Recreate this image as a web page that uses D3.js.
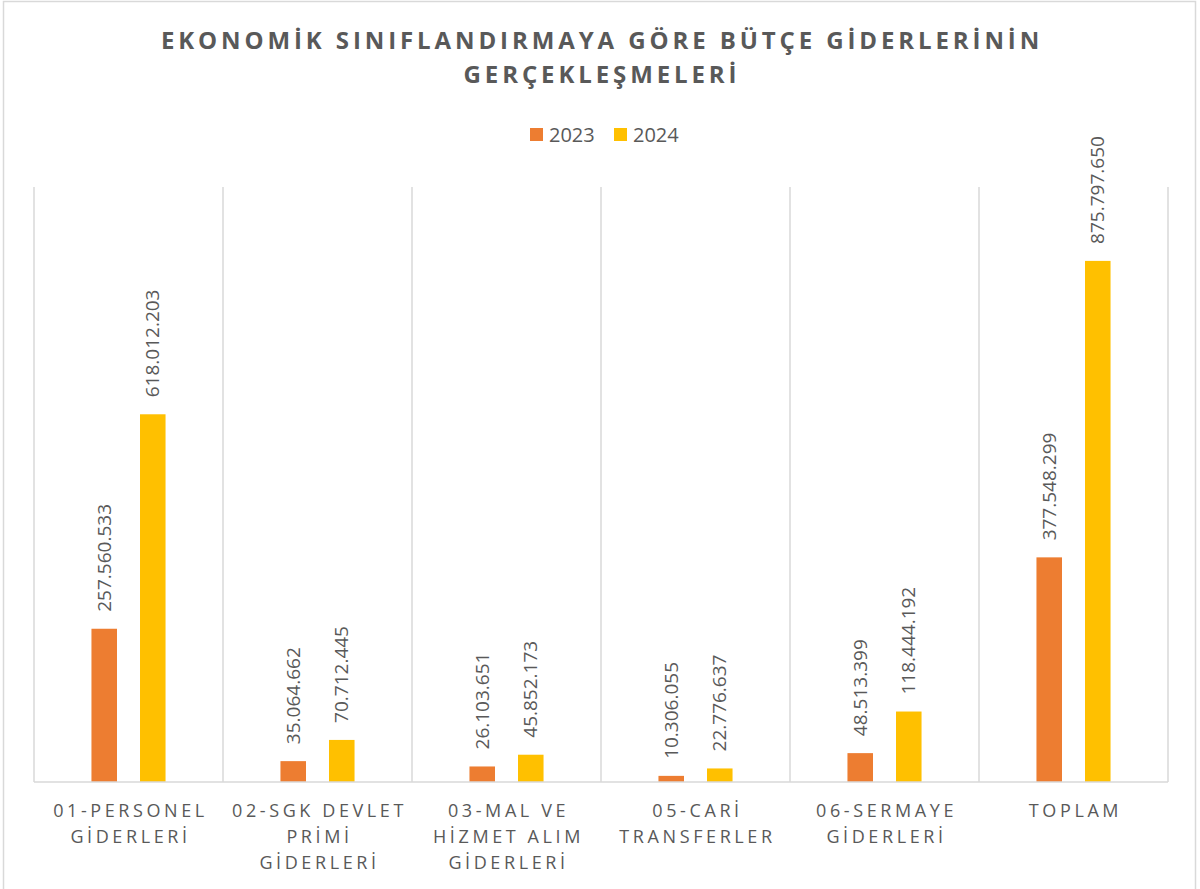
<!DOCTYPE html>
<html>
<head>
<meta charset="utf-8">
<script src="https://cdn.jsdelivr.net/npm/d3@7"></script>
<style>
  body { margin: 0; background: #fff; }
  text { font-family: "Open Sans", "Noto Sans", sans-serif; fill: #595959; }
</style>
</head>
<body>
<svg id="chart" width="1200" height="889"></svg>
<script>

var titleLines = ["EKONOMİK SINIFLANDIRMAYA GÖRE BÜTÇE GİDERLERİNİN", "GERÇEKLEŞMELERİ"];
var categories = ["01-PERSONEL GİDERLERİ", "02-SGK DEVLET PRİMİ GİDERLERİ", "03-MAL VE HİZMET ALIM GİDERLERİ",
                  "05-CARİ TRANSFERLER", "06-SERMAYE GİDERLERİ", "TOPLAM"];
var categoryLines = [["01-PERSONEL", "GİDERLERİ"], ["02-SGK DEVLET", "PRİMİ", "GİDERLERİ"],
                     ["03-MAL VE", "HİZMET ALIM", "GİDERLERİ"], ["05-CARİ", "TRANSFERLER"],
                     ["06-SERMAYE", "GİDERLERİ"], ["TOPLAM"]];
var seriesNames = ["2023", "2024"];
var values2023 = [257560533, 35064662, 26103651, 10306055, 48513399, 377548299];
var values2024 = [618012203, 70712445, 45852173, 22776637, 118444192, 875797650];
var seriesColors = ["#ED7D31", "#FFC000"];
var yMax = 1000000000;

var svg = d3.select("#chart");
var plot = {left: 34, right: 1168, top: 187, bottom: 782};

// outer chart border
svg.append("rect")
    .attr("x", 3.5).attr("y", 1.5)
    .attr("width", 1192).attr("height", 900)
    .attr("fill", "none")
    .attr("stroke", "#D9D9D9")
    .attr("stroke-width", 1.5);

// title
svg.append("g").selectAll("text")
    .data(titleLines)
    .enter().append("text")
    .attr("x", 600 + 2)
    .attr("y", function(d, i) { return 49 + i * 34; })
    .attr("text-anchor", "middle")
    .style("font-size", "24px")
    .style("font-weight", "bold")
    .style("letter-spacing", "3.9px")
    .text(function(d) { return d; });

// legend
var legend = svg.append("g");
var legendX = [530, 614];
seriesNames.forEach(function(s, i) {
    legend.append("rect")
        .attr("x", legendX[i]).attr("y", 128)
        .attr("width", 13).attr("height", 13)
        .attr("fill", seriesColors[i]);
    legend.append("text")
        .attr("x", legendX[i] + 19).attr("y", 142)
        .style("font-size", "20px")
        .text(s);
});

var x0 = d3.scaleBand()
    .domain(categories)
    .range([plot.left, plot.right]);

var bw = x0.bandwidth();
var x1 = d3.scaleBand()
    .domain(seriesNames)
    .range([bw / 2 - bw * 0.196, bw / 2 + bw * 0.196])
    .paddingInner(0.474);

var y = d3.scaleLinear()
    .domain([0, yMax])
    .range([plot.bottom, plot.top]);

// vertical gridlines at category boundaries
var bounds = categories.map(function(c) { return x0(c); }).concat([plot.right]);
svg.append("g").selectAll("line")
    .data(bounds)
    .enter().append("line")
    .attr("x1", function(d) { return d; })
    .attr("x2", function(d) { return d; })
    .attr("y1", plot.top)
    .attr("y2", plot.bottom)
    .attr("stroke", "#D9D9D9")
    .attr("stroke-width", 1.5);

// bars
var rows = categories.map(function(c, i) {
    return {cat: c, vals: [values2023[i], values2024[i]]};
});

var groups = svg.append("g").selectAll("g")
    .data(rows)
    .enter().append("g")
    .attr("transform", function(d) { return "translate(" + x0(d.cat) + ",0)"; });

groups.selectAll("rect")
    .data(function(d) { return d.vals.map(function(v, j) { return {s: seriesNames[j], v: v, j: j}; }); })
    .enter().append("rect")
    .attr("x", function(d) { return x1(d.s); })
    .attr("y", function(d) { return y(d.v); })
    .attr("width", x1.bandwidth())
    .attr("height", function(d) { return y(0) - y(d.v); })
    .attr("fill", function(d) { return seriesColors[d.j]; });

// value labels, rotated
var fmt = function(v) { return d3.format(",")(v).replace(/,/g, "."); };
groups.selectAll("text.val")
    .data(function(d) { return d.vals.map(function(v, j) { return {s: seriesNames[j], v: v}; }); })
    .enter().append("text")
    .attr("class", "val")
    .attr("transform", function(d) {
        return "translate(" + (x1(d.s) + x1.bandwidth() / 2) + "," + (y(d.v) - 17) + ") rotate(-90)";
    })
    .attr("dy", "0.35em")
    .style("font-size", "19px")
    .text(function(d) { return fmt(d.v); });

// baseline
svg.append("line")
    .attr("x1", plot.left).attr("x2", plot.right)
    .attr("y1", plot.bottom).attr("y2", plot.bottom)
    .attr("stroke", "#D9D9D9")
    .attr("stroke-width", 1.5);

// category labels
svg.append("g").selectAll("text")
    .data(categories)
    .enter().append("text")
    .attr("x", function(d) { return x0(d) + bw / 2 + 2; })
    .attr("y", 817)
    .attr("text-anchor", "middle")
    .style("font-size", "18px")
    .style("letter-spacing", "3.6px")
    .each(function(d, i) {
        var t = d3.select(this);
        categoryLines[i].forEach(function(line, k) {
            t.append("tspan")
                .attr("x", x0(d) + bw / 2 + 2)
                .attr("y", 817 + k * 26)
                .text(line);
        });
    });

</script>
</body>
</html>
